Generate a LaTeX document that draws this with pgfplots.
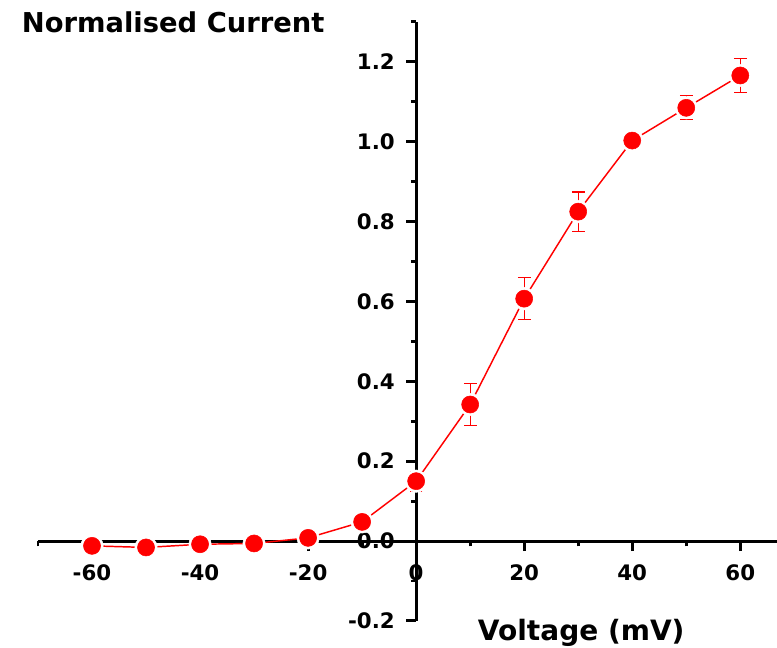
\documentclass[border=0pt]{standalone}
\usepackage{fontspec}
\setmainfont{DejaVu Sans}
\usepackage{pgfplots}
\pgfplotsset{compat=1.18}
\begin{document}
\begin{tikzpicture}
\begin{axis}[
 scale only axis, width=554pt, height=449pt,
 axis lines=middle, axis line style={-, line width=2.2pt},
 xmin=-70, xmax=66.8, ymin=-0.2, ymax=1.3,
 xtick={-60,-40,-20,0,20,40,60}, minor xtick={-70,-50,-30,-10,10,30,50},
 ytick={-0.2,0,0.2,0.4,0.6,0.8,1.0,1.2}, minor ytick={-0.1,0.1,0.3,0.5,0.7,0.9,1.1,1.3},
 tick align=outside, major tick length=7.5pt, minor tick length=4pt,
 tick style={line width=2.2pt, black},
 hide obscured x ticks=false, hide obscured y ticks=false,
 ticklabel style={font=\fontsize{16}{19}\selectfont\bfseries},
 /pgf/number format/assume math mode=true,
 yticklabel style={xshift=-5pt, /pgf/number format/.cd, fixed, fixed zerofill, precision=1},
 xticklabel style={yshift=-7pt},
 clip=false,
]
\addplot[red, line width=1.1pt, no marks] coordinates {
(-60,-0.012) (-50,-0.016) (-40,-0.008) (-30,-0.006) (-20,0.008) (-10,0.048) (0,0.15) (10,0.342) (20,0.607) (30,0.825) (40,1.003) (50,1.085) (60,1.166)};
\addplot[only marks, mark=*, mark size=8.4pt, white, mark options={draw=white, fill=white}] coordinates {
(-60,-0.012) (-50,-0.016) (-40,-0.008) (-30,-0.006) (-20,0.008) (-10,0.048) (0,0.15) (10,0.342) (20,0.607) (30,0.825) (40,1.003) (50,1.085) (60,1.166)};
\addplot[only marks, mark=*, mark size=6.4pt, red, mark options={draw=red, fill=red},
  error bars/.cd, y dir=both, y explicit,
  error bar style={red, line width=0.9pt},
  error mark options={rotate=90, mark size=4.75pt, line width=0.9pt, red}] coordinates {
(-60,-0.012) +- (0,0.01)
(-50,-0.016) +- (0,0.01)
(-40,-0.008) +- (0,0.008)
(-30,-0.006) +- (0,0.008)
(-20,0.008) +- (0,0.008)
(-10,0.048) +- (0,0.01)
(0,0.15) +- (0,0.025)
(10,0.342) +- (0,0.0535)
(20,0.607) +- (0,0.053)
(30,0.825) +- (0,0.049)
(40,1.003) +- (0,0.01)
(50,1.085) +- (0,0.030)
(60,1.166) +- (0,0.043)};
\node[anchor=base west, font=\fontsize{20.5}{24}\selectfont\bfseries, inner sep=0pt] at (rel axis cs:-0.022,0.9816) {Normalised Current};
\node[anchor=base west, font=\fontsize{21}{24}\selectfont\bfseries, inner sep=0pt] at (rel axis cs:0.595,-0.0334) {Voltage (mV)};
\coordinate (bl) at (rel axis cs:-0.0514,-0.0451);
\coordinate (tr) at (rel axis cs:1.0,1.0367);
\end{axis}
\pgfresetboundingbox
\useasboundingbox (bl) rectangle (tr);
\end{tikzpicture}
\end{document}
